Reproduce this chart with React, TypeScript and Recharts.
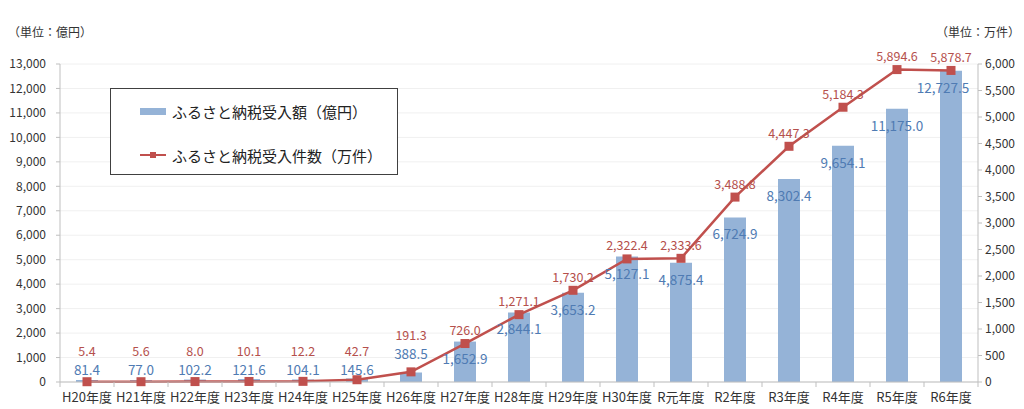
import React from "react";
import {
  ComposedChart,
  Bar,
  Line,
  XAxis,
  YAxis,
  CartesianGrid,
  LabelList,
  Legend,
} from "recharts";

const categories = [
  "H20年度", "H21年度", "H22年度", "H23年度", "H24年度", "H25年度", "H26年度",
  "H27年度", "H28年度", "H29年度", "H30年度", "R元年度", "R2年度", "R3年度",
  "R4年度", "R5年度", "R6年度",
];
const amountValues = [
  81.4, 77.0, 102.2, 121.6, 104.1, 145.6, 388.5, 1652.9, 2844.1, 3653.2,
  5127.1, 4875.4, 6724.9, 8302.4, 9654.1, 11175.0, 12727.5,
];
const countValues = [
  5.4, 5.6, 8.0, 10.1, 12.2, 42.7, 191.3, 726.0, 1271.1, 1730.2, 2322.4,
  2333.6, 3488.8, 4447.3, 5184.3, 5894.6, 5878.7,
];
const leftTicks = [0, 1000, 2000, 3000, 4000, 5000, 6000, 7000, 8000, 9000, 10000, 11000, 12000, 13000];
const rightTicks = [0, 500, 1000, 1500, 2000, 2500, 3000, 3500, 4000, 4500, 5000, 5500, 6000];
const amountName = "ふるさと納税受入額（億円）";
const countName = "ふるさと納税受入件数（万件）";
const leftUnit = "（単位：億円）";
const rightUnit = "（単位：万件）";

const data = categories.map((c, i) => ({
  name: c,
  amount: amountValues[i],
  count: countValues[i],
}));

const FONT = "'Noto Sans CJK JP', 'Noto Sans', sans-serif";
const BAR_COLOR = "#95b3d7";
const LINE_COLOR = "#c0504d";
const BAR_LABEL = "#4f7bb3";
const LINE_LABEL = "#b5504c";
const AXIS_COLOR = "#bfbfbf";

const W = 1024;
const H = 409;
const PLOT_LEFT = 60;
const PLOT_RIGHT = 978;
const PLOT_BOTTOM = 382;
const BAND = (PLOT_RIGHT - PLOT_LEFT) / categories.length;

const fmt1 = (v: number) =>
  v.toLocaleString("en-US", { minimumFractionDigits: 1, maximumFractionDigits: 1 });
const fmt0 = (v: number) => v.toLocaleString("en-US");

// vertical position of a bar's label, given its value and the top of the bar
const barLabelY = (value: number, top: number) => {
  if (value >= 1000) return top + 16;
  if (value < 200) return PLOT_BOTTOM - 13;
  return top - 19;
};

const XTick = (props: any) => {
  const { x, y, payload, index } = props;
  const isLast = index === categories.length - 1;
  return (
    <g>
      <line x1={x - BAND / 2} x2={x - BAND / 2} y1={PLOT_BOTTOM} y2={PLOT_BOTTOM + 5} stroke={AXIS_COLOR} />
      {isLast && (
        <line x1={x + BAND / 2} x2={x + BAND / 2} y1={PLOT_BOTTOM} y2={PLOT_BOTTOM + 5} stroke={AXIS_COLOR} />
      )}
      <text x={x} y={y + 12} textAnchor="middle" fontSize={13} fill="#333" fontFamily={FONT}>
        {payload.value}
      </text>
    </g>
  );
};

const BarLabel = (props: any) => {
  const { x, y, width, value, index } = props;
  const isLast = index === categories.length - 1;
  const cx = x + width / 2 - (isLast ? 8 : 0);
  const ty = barLabelY(value, y);
  return (
    <text x={cx} y={ty} textAnchor="middle" dominantBaseline="central" fontSize={13.5} fill={BAR_LABEL} fontFamily={FONT}>
      {fmt1(value)}
    </text>
  );
};

const LineLabel = (props: any) => {
  const { x, y, value, index } = props;
  const amount = amountValues[index];
  let ty = y - 14;
  if (amount < 1000) {
    const barTop = PLOT_BOTTOM - (amount / 13000) * (PLOT_BOTTOM - 64);
    ty = Math.min(ty, barLabelY(amount, barTop) - 19);
  }
  return (
    <text x={x} y={ty} textAnchor="middle" dominantBaseline="central" fontSize={12.5} fill={LINE_LABEL} fontFamily={FONT}>
      {fmt1(value)}
    </text>
  );
};

const LegendBox = () => (
  <div
    style={{
      width: 288,
      height: 87,
      border: "1.5px solid #404040",
      background: "#fff",
      boxSizing: "border-box",
      fontFamily: FONT,
      fontSize: 15,
      color: "#222",
      position: "relative",
    }}
  >
    <div style={{ position: "absolute", left: 29, top: 10, display: "flex", alignItems: "center", height: 24 }}>
      <div style={{ width: 26, height: 7, background: BAR_COLOR, marginRight: 6 }} />
      <span>{amountName}</span>
    </div>
    <div style={{ position: "absolute", left: 29, top: 54, display: "flex", alignItems: "center", height: 24 }}>
      <svg width={26} height={10} style={{ marginRight: 6 }}>
        <line x1={0} x2={26} y1={5} y2={5} stroke={LINE_COLOR} strokeWidth={2} />
        <rect x={10} y={2} width={6} height={6} fill={LINE_COLOR} />
      </svg>
      <span>{countName}</span>
    </div>
  </div>
);

export default function App() {
  return (
    <div style={{ position: "absolute", left: 0, top: 0, width: W, height: H, background: "#fff" }}>
      <div style={{ position: "absolute", left: 8, top: 23, fontFamily: FONT, fontSize: 12, color: "#333" }}>
        {leftUnit}
      </div>
      <div style={{ position: "absolute", left: 936, top: 23, fontFamily: FONT, fontSize: 12, color: "#333" }}>
        {rightUnit}
      </div>
      <ComposedChart
        width={W}
        height={H}
        data={data}
        margin={{ top: 64, right: 0, left: 0, bottom: 0 }}
        barCategoryGap={0}
      >
        <CartesianGrid vertical={false} stroke="#f0f0f0" yAxisId="left" />
        <XAxis
          dataKey="name"
          height={27}
          tick={<XTick />}
          tickLine={false}
          axisLine={{ stroke: AXIS_COLOR }}
          interval={0}
        />
        <YAxis
          yAxisId="left"
          orientation="left"
          width={60}
          domain={[0, 13000]}
          ticks={leftTicks}
          tickFormatter={fmt0}
          tick={{ fontSize: 12, fill: "#333", fontFamily: FONT }}
          axisLine={{ stroke: AXIS_COLOR }}
          tickLine={{ stroke: AXIS_COLOR }}
          tickSize={4}
          tickMargin={10}
          interval={0}
        />
        <YAxis
          yAxisId="right"
          orientation="right"
          width={46}
          domain={[0, 6000]}
          ticks={rightTicks}
          tickFormatter={fmt0}
          tick={{ fontSize: 12, fill: "#333", fontFamily: FONT }}
          axisLine={{ stroke: AXIS_COLOR }}
          tickLine={{ stroke: AXIS_COLOR }}
          tickSize={4}
          tickMargin={3}
          interval={0}
        />
        <Legend
          content={<LegendBox />}
          layout="horizontal"
          verticalAlign="middle"
          align="center"
          wrapperStyle={{ position: "absolute", left: 110, top: 88, width: 290, height: 88 }}
        />
        <Bar
          yAxisId="left"
          dataKey="amount"
          name={amountName}
          fill={BAR_COLOR}
          barSize={22}
          isAnimationActive={false}
        >
          <LabelList dataKey="amount" content={<BarLabel />} />
        </Bar>
        <Line
          yAxisId="right"
          dataKey="count"
          name={countName}
          type="linear"
          stroke={LINE_COLOR}
          strokeWidth={2.5}
          dot={(p: any) => (
            <rect key={p.index} x={p.cx - 4.5} y={p.cy - 4.5} width={9} height={9} fill={LINE_COLOR} />
          )}
          activeDot={false}
          isAnimationActive={false}
        >
          <LabelList dataKey="count" content={<LineLabel />} />
        </Line>
      </ComposedChart>
    </div>
  );
}
